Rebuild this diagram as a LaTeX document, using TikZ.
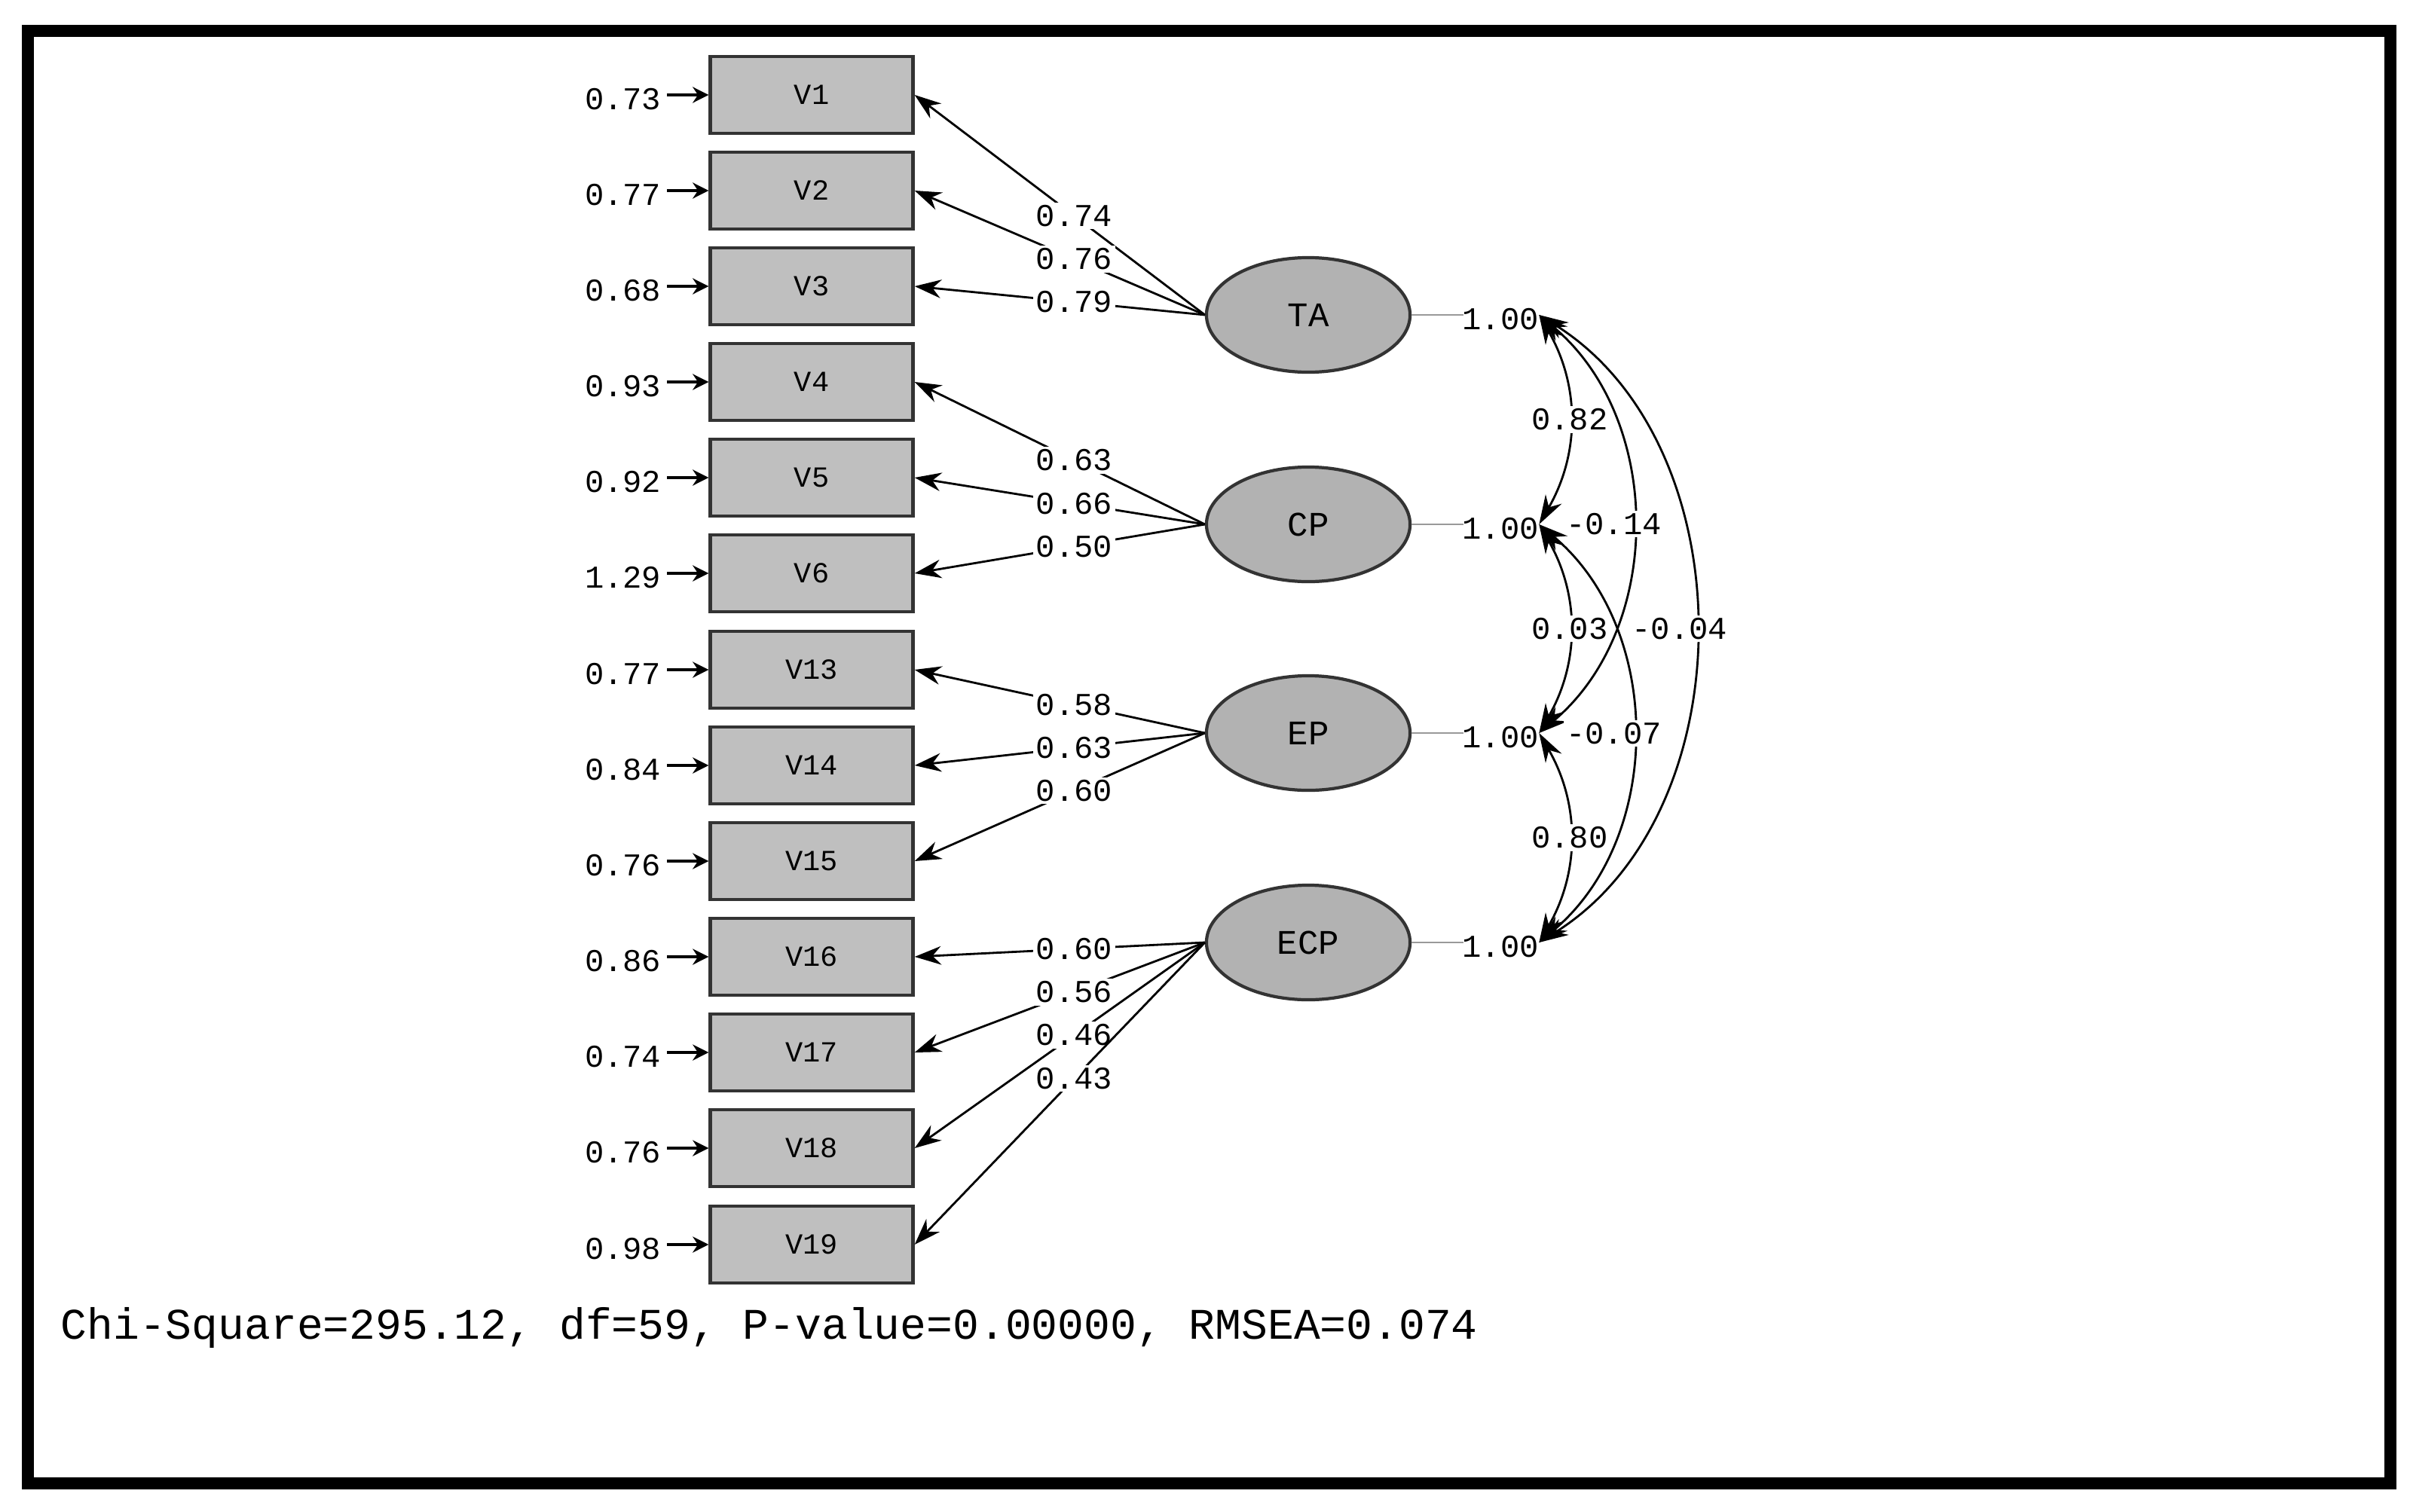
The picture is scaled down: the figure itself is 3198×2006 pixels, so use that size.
\documentclass[tikz,border=0pt]{standalone}
\usepackage{fontspec}
\setmainfont{Liberation Mono}
\usetikzlibrary{arrows.meta,shapes.geometric}
\begin{document}
\begin{tikzpicture}[x=0.01cm,y=-0.01cm,
 box/.style={draw=black!80,line width=1.2pt,fill=black!25,minimum width=2.69cm,minimum height=1.02cm,inner sep=0pt,font=\fontsize{11}{12}\selectfont},
 lat/.style={draw=black!80,line width=1.2pt,fill=black!30,ellipse,minimum width=2.7cm,minimum height=1.52cm,inner sep=0pt,font=\fontsize{13}{14}\selectfont},
 lab/.style={fill=white,inner sep=1pt,font=\fontsize{12}{13}\selectfont},
 load/.style={-{Stealth[length=10pt,width=7pt]},line width=0.8pt},
 err/.style={-{Stealth[length=6pt,width=6pt]},line width=1.4pt},
 cor/.style={{Stealth[length=11pt,width=7pt]}-{Stealth[length=11pt,width=7pt]},line width=0.8pt},
 var/.style={draw=black!40,line width=0.8pt}]
\useasboundingbox (0,0) rectangle (3198,2006);
\draw[line width=4.5pt] (37,41) rectangle (3172,1969);
\foreach \n/\y/\e in {1/126/0.73,2/253/0.77,3/380/0.68,4/507/0.93,5/634/0.92,6/761/1.29,13/889/0.77,14/1016/0.84,15/1143/0.76,16/1270/0.86,17/1397/0.74,18/1524/0.76,19/1652/0.98}{
  \node[box] (v\n) at (1077,\y) {V\n};
  \coordinate (e\n) at (885,\y);
  \node[anchor=east,inner sep=0pt,font=\fontsize{12}{13}\selectfont] at (878,\y+6) {\e};
  \draw[err] (e\n) -- (v\n.west);
}
\node[lat] (TA) at (1736,418) {TA};
\node[lat] (CP) at (1736,696) {CP};
\node[lat] (EP) at (1736,973) {EP};
\node[lat] (ECP) at (1736,1251) {ECP};
\foreach \f/\v/\l in {TA/1/0.74,TA/2/0.76,TA/3/0.79,CP/4/0.63,CP/5/0.66,CP/6/0.50,EP/13/0.58,EP/14/0.63,EP/15/0.60,ECP/16/0.60,ECP/17/0.56,ECP/18/0.46,ECP/19/0.43}{
  \draw[load] (\f.west) -- node[lab,pos=0.45] {\l} (v\v.east);
}
\foreach \f in {TA,CP,EP,ECP}{
  \coordinate (c\f) at ([xshift=1.69cm]\f.east);
  \draw[var] (\f.east) -- ([xshift=0.69cm]\f.east);
  \node[font=\fontsize{12}{13}\selectfont,inner sep=1pt] at ([xshift=1.18cm,yshift=-0.06cm]\f.east) {1.00};
}
\draw[cor] (cTA) to[out=-60,in=60] node[lab,pos=0.5] {0.82} (cCP);
\draw[cor] (cCP) to[out=-60,in=60] node[lab,pos=0.5] {0.03} (cEP);
\draw[cor] (cEP) to[out=-60,in=60] node[lab,pos=0.5] {0.80} (cECP);
\draw[cor] (cTA) to[out=-40,in=40] node[lab,pos=0.5,xshift=-0.25cm] {-0.14} (cEP);
\draw[cor] (cCP) to[out=-40,in=40] node[lab,pos=0.5,xshift=-0.25cm] {-0.07} (cECP);
\draw[cor] (cTA) to[out=-32,in=32] node[lab,pos=0.5,xshift=-0.2cm] {-0.04} (cECP);
\node[anchor=west,inner sep=0pt,font=\fontsize{16.5}{17}\selectfont] (chi) at (80,1762) {Chi-Square=295.12, df=59, P-value=0.00000, RMSEA=0.074};
\end{tikzpicture}
\end{document}
